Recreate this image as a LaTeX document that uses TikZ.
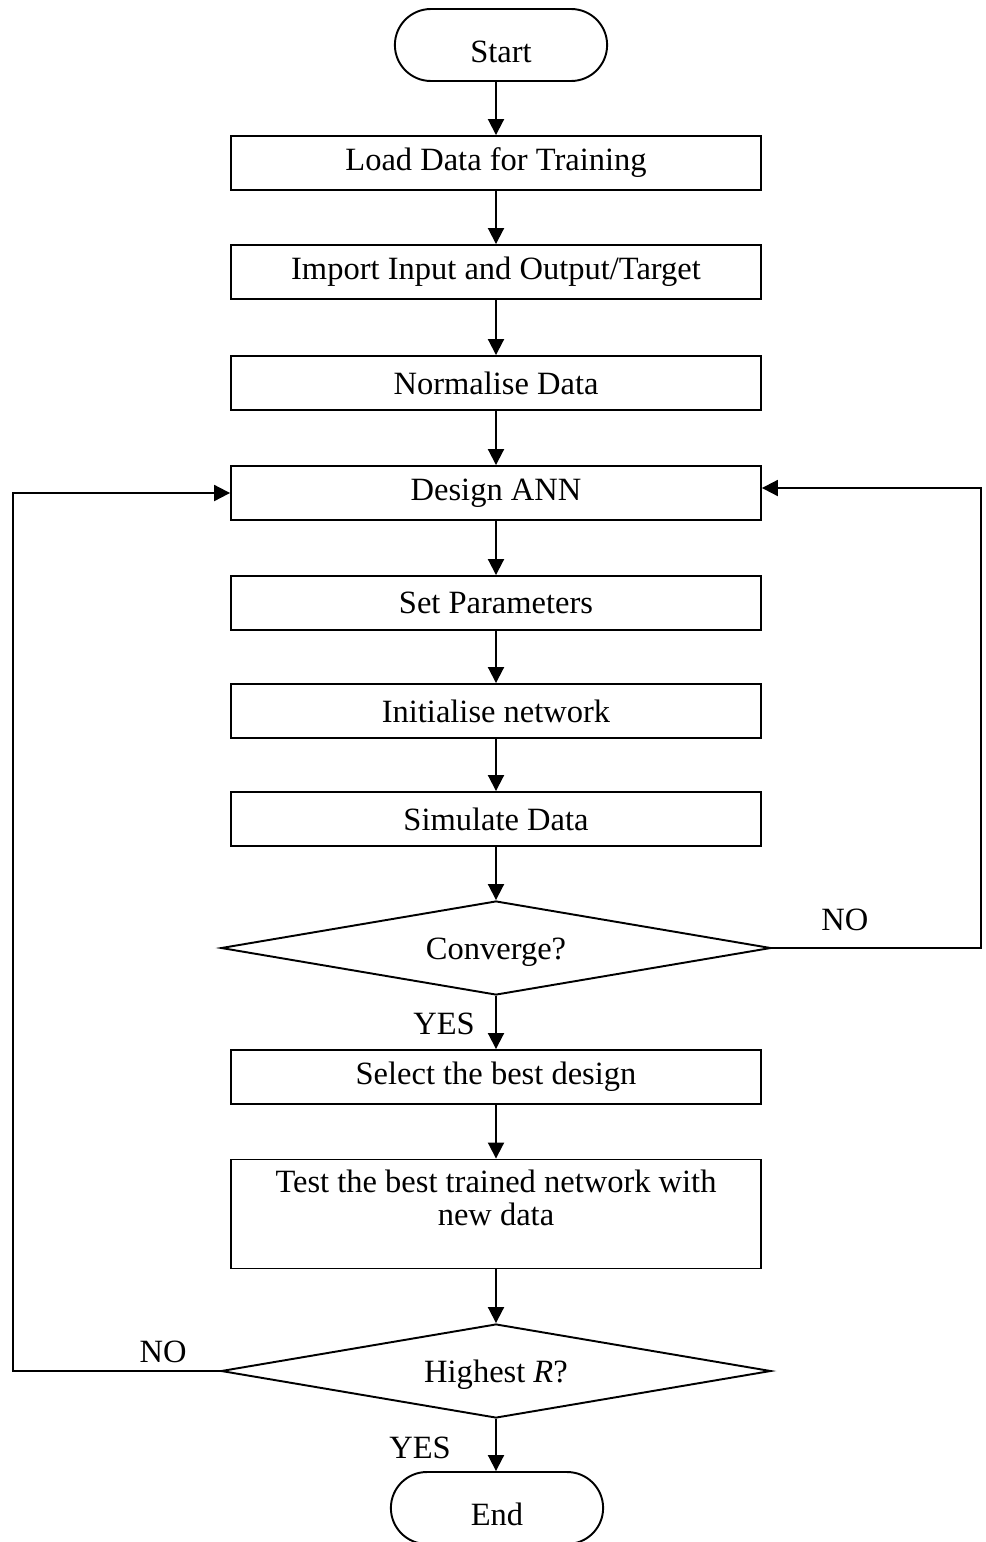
\documentclass[tikz,border=0pt]{standalone}
\usepackage{fontspec}
\setmainfont{Liberation Serif}
\usetikzlibrary{shapes.geometric,shapes.misc,positioning,calc,arrows.meta}

\begin{document}
\begin{tikzpicture}[x=0.02cm,y=-0.02cm,line width=1.1pt,
		font=\fontsize{18.5}{18.5}\selectfont]
		\tikzstyle{box}=[draw, rectangle, minimum width=10.6cm, minimum height=1.08cm, inner sep=0pt, align=center];
		\tikzstyle{term}=[draw, rounded rectangle, minimum width=4.48cm, minimum height=1.44cm, text height=20pt, text depth=0pt];
		\tikzstyle{decide}=[draw, diamond, aspect=5.85, minimum width=11cm, minimum height=1.88cm, inner sep=0pt, text height=13pt, text depth=0pt];
		\tikzstyle{arr}=[-{Triangle[length=0.32cm,width=0.32cm]}];
		
		\useasboundingbox (0,0) rectangle (985,1542);
		
		\node[term] (start) at (501,45) {Start};
		\node[box] (load) at (496,163) {Load Data for Training};
		\node[box] (import) at (496,272) {Import Input and Output/Target};
		\node[box] (norm) at (496,383) {Normalise Data};
		\node[box] (design) at (496,493) {Design ANN};
		\node[box] (param) at (496,603) {Set Parameters};
		\node[box] (init) at (496,711) {Initialise network};
		\node[box] (sim) at (496,819) {Simulate Data};
		\node[decide] (conv) at (496,948) {Converge?};
		\node[box] (select) at (496,1077) {Select the best design};
		\node[box, minimum height=2.18cm] (test) at (496,1214) {Test the best trained network with\\new data\\\mbox{}};
		\node[decide] (best) at (496,1371) {Highest \textit{R}?};
		\node[term] (stop) at (497,1508) {End};
		
		\draw[arr] (start.south -| load.north) -- (load.north);
		\draw[arr] (load.south) -- (import.north);
		\draw[arr] (import.south) -- (norm.north);
		\draw[arr] (norm.south) -- (design.north);
		\draw[arr] (design.south) -- (param.north);
		\draw[arr] (param.south) -- (init.north);
		\draw[arr] (init.south) -- (sim.north);
		\draw[arr] (sim.south) -- (conv.north);
		\draw[arr] (conv.south) -- (select.north);
		\draw[arr] (select.south) -- (test.north);
		\draw[arr] (test.south) -- (best.north);
		\draw[arr] (best.south) -- (best.south |- stop.north);
		
		% feedback loops
		\coordinate (rturn) at (981,488);
		\draw[arr] (conv.east) -| (rturn) -- (rturn -| design.east);
		\coordinate (lturn) at (13,493);
		\draw[arr] (best.west) -| (lturn) -- (lturn -| design.west);
		
		\node (convno) at ($(conv.east)+(73,-28)$) {NO};
		\node (convyes) at ($(conv.south)+(-52,28)$) {YES};
		\node (bestno) at ($(best.west)+(-57,-19)$) {NO};
		\node (bestyes) at ($(best.south)+(-76,29)$) {YES};
	\end{tikzpicture}
\end{document}
